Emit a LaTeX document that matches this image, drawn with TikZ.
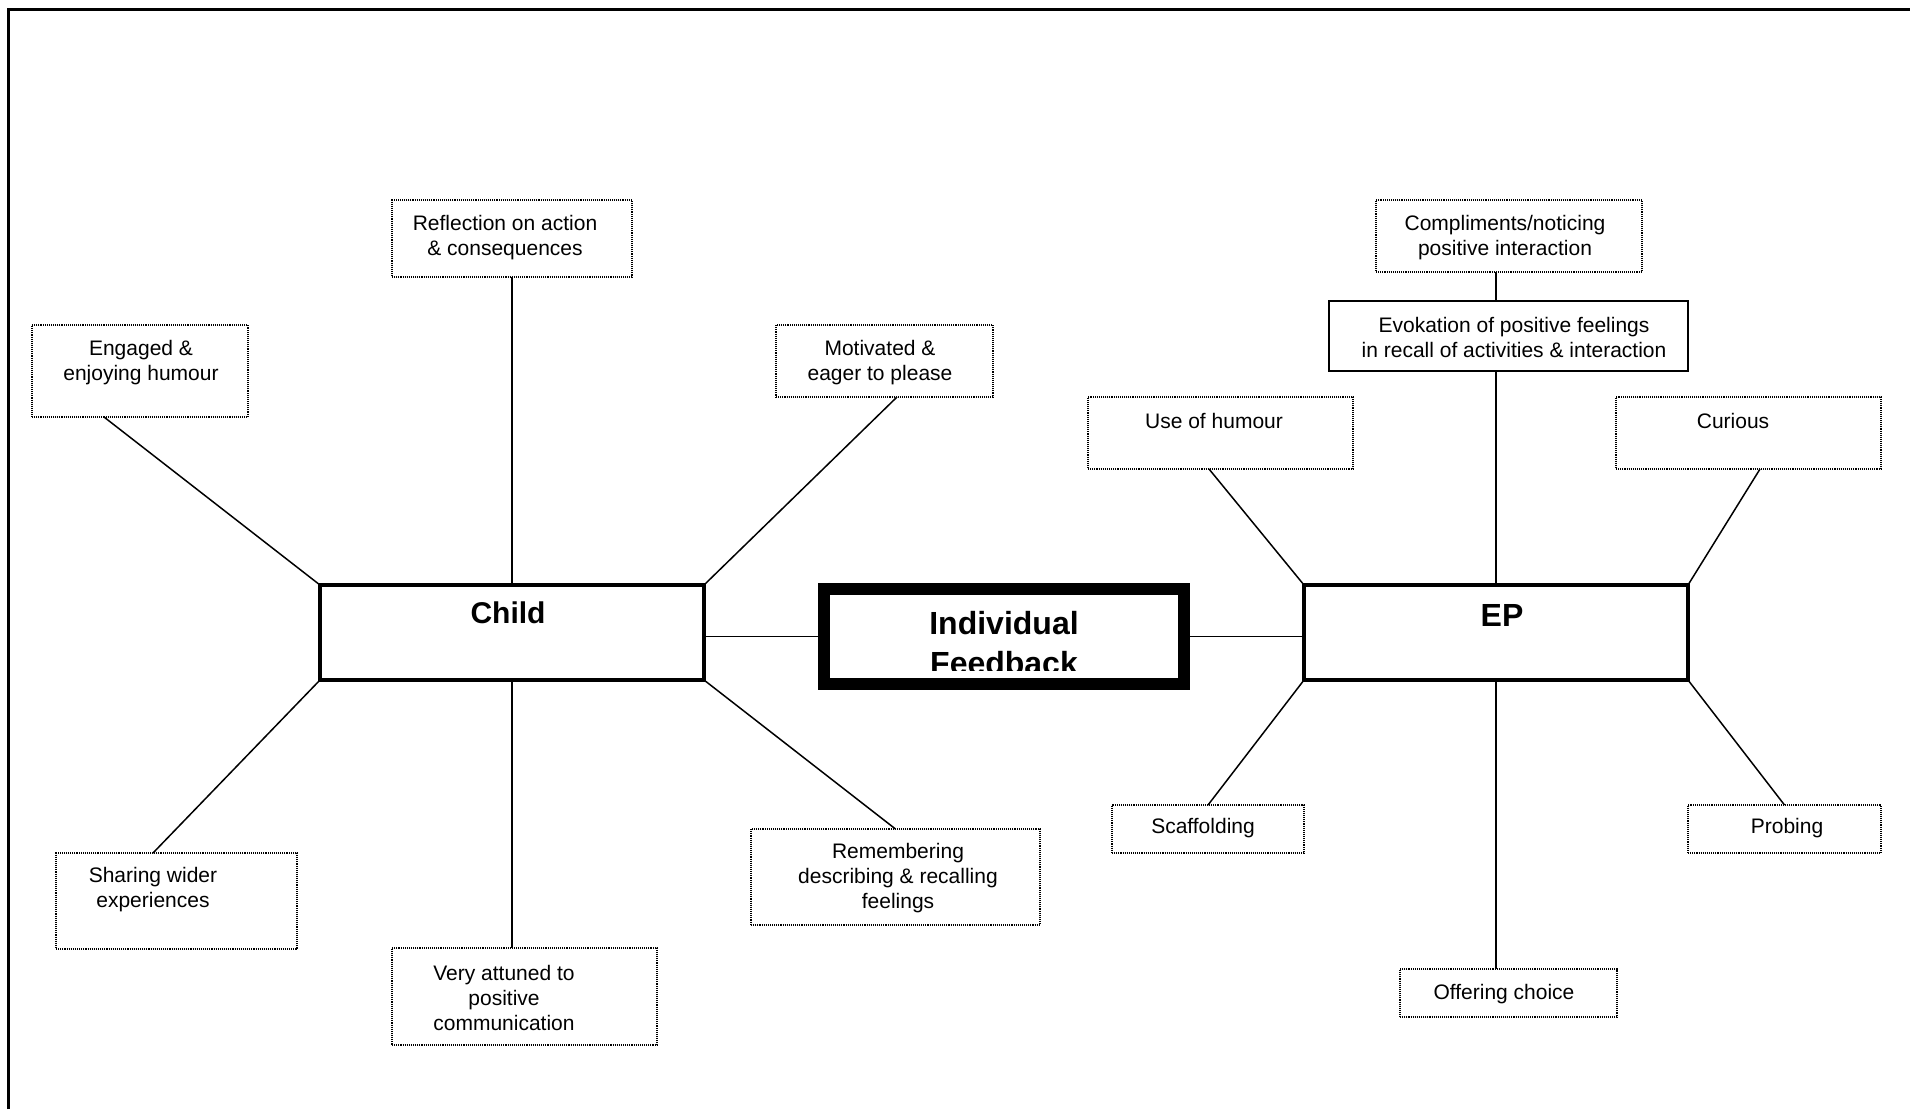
\documentclass[tikz,border=0pt]{standalone}
\usepackage{fontspec}
\setmainfont{Liberation Sans}
\usetikzlibrary{calc}
\begin{document}
\begin{tikzpicture}[x=0.5pt,y=-0.5pt,
  every node/.style={inner sep=0pt, outer sep=0pt},
  sz/.style 2 args={minimum width={#1*0.5pt}, minimum height={#2*0.5pt}},
  conn/.style={line width=0.75pt},
  dotbox/.style={draw, rectangle, line width=0.8pt, dash pattern=on 0.55pt off 0.5pt},
  mainbox/.style={draw, rectangle, line width=1.75pt},
  txt/.style={align=center, font=\fontsize{10.5pt}{12.5pt}\selectfont},
  bigtxt/.style={align=center, font=\fontsize{16pt}{20pt}\selectfont\bfseries}
]
\useasboundingbox (0,0) rectangle (1910,1109);

% page frame (left and top rules)
\draw[line width=1.25pt] (8.3,1109) -- (8.3,9.5) -- (1910,9.5);

% central hubs
\node[mainbox, sz={384}{95}] (child) at (512,632.5) {};
\node[bigtxt, font=\fontsize{15pt}{20pt}\selectfont\bfseries] (childlbl) at (508,613) {Child};

\node[mainbox, sz={384}{95}] (ep) at (1496,632.5) {};
\node[bigtxt] (eplbl) at (1502,615) {EP};

\node[draw, rectangle, line width=6pt, sz={360}{95}] (fb) at (1004,636.5) {};
\begin{scope}
  \clip ([xshift=3pt,yshift=-3pt]fb.north west) rectangle ([xshift=-3pt,yshift=7pt]fb.south east);
  \node[bigtxt] (fblbl) at (1004,643) {Individual\\Feedback};
\end{scope}

% hub links
\draw[conn] (fb.west -| child.east) -- (fb.west);
\draw[conn] (fb.east) -- (fb.east -| ep.west);

% child branches
\node[dotbox, sz={240}{77}] (refl) at (512,238.5) {};
\node[txt] (refllbl) at (505,238) {Reflection on action\\\& consequences};

\node[dotbox, sz={216}{92}] (eng) at (140,371) {};
\node[txt] (englbl) at (141,363) {Engaged \&\\enjoying humour};

\node[dotbox, sz={217}{72}] (mot) at (884.5,361) {};
\node[txt] (motlbl) at (880,363) {Motivated \&\\eager to please};

\node[dotbox, sz={241}{96}] (share) at (176.5,901) {};
\node[txt] (sharelbl) at (153,890) {Sharing wider\\experiences};

\node[dotbox, sz={265}{97}] (att) at (524.5,996.5) {};
\node[txt] (attlbl) at (504,998) {Very attuned to\\positive\\communication};

\node[dotbox, sz={289}{96}] (rem) at (895.5,877) {};
\node[txt] (remlbl) at (898,878) {Remembering\\describing \& recalling\\feelings};

\draw[conn] (refl.south) -- (refl.south |- child.north);
\draw[conn] ([xshift=-18pt]eng.south) -- (child.north west);
\draw[conn] ([xshift=6.25pt]mot.south) -- (child.north east);
\draw[conn] ([xshift=-11.75pt]share.north) -- (child.south west);
\draw[conn] (child.south) -- (child.south |- att.north);
\draw[conn] (rem.north) -- (child.south east);

% EP branches
\node[dotbox, sz={266}{72}] (comp) at (1509,236) {};
\node[txt] (complbl) at (1505,238) {Compliments/noticing\\positive interaction};

\node[draw, rectangle, line width=1pt, sz={359}{70}] (evo) at (1508.5,336) {};
\node[txt] (evolbl) at (1514,337) {Evokation of positive feelings\\in recall of activities \& interaction};

\node[dotbox, sz={265}{72}] (hum) at (1220.5,433) {};
\node[txt] (humlbl) at (1214,421) {Use of humour};

\node[dotbox, sz={265}{72}] (cur) at (1748.5,433) {};
\node[txt] (curlbl) at (1733,421) {Curious};

\node[dotbox, sz={192}{48}] (scaf) at (1208,829) {};
\node[txt] (scaflbl) at (1203,828) {Scaffolding};

\node[dotbox, sz={193}{48}] (prob) at (1784.5,829) {};
\node[txt] (problbl) at (1787,828) {Probing};

\node[dotbox, sz={217}{48}] (off) at (1508.5,993) {};
\node[txt] (offlbl) at (1504,994) {Offering choice};

\draw[conn] (ep.north |- comp.south) -- (ep.north |- evo.north);
\draw[conn] (ep.north |- evo.south) -- (ep.north);
\draw[conn] ([xshift=-5.75pt]hum.south) -- (ep.north west);
\draw[conn] ([xshift=5.75pt]cur.south) -- (ep.north east);
\draw[conn] (scaf.north) -- (ep.south west);
\draw[conn] (prob.north) -- (ep.south east);
\draw[conn] (ep.south) -- (ep.south |- off.north);
\end{tikzpicture}
\end{document}
